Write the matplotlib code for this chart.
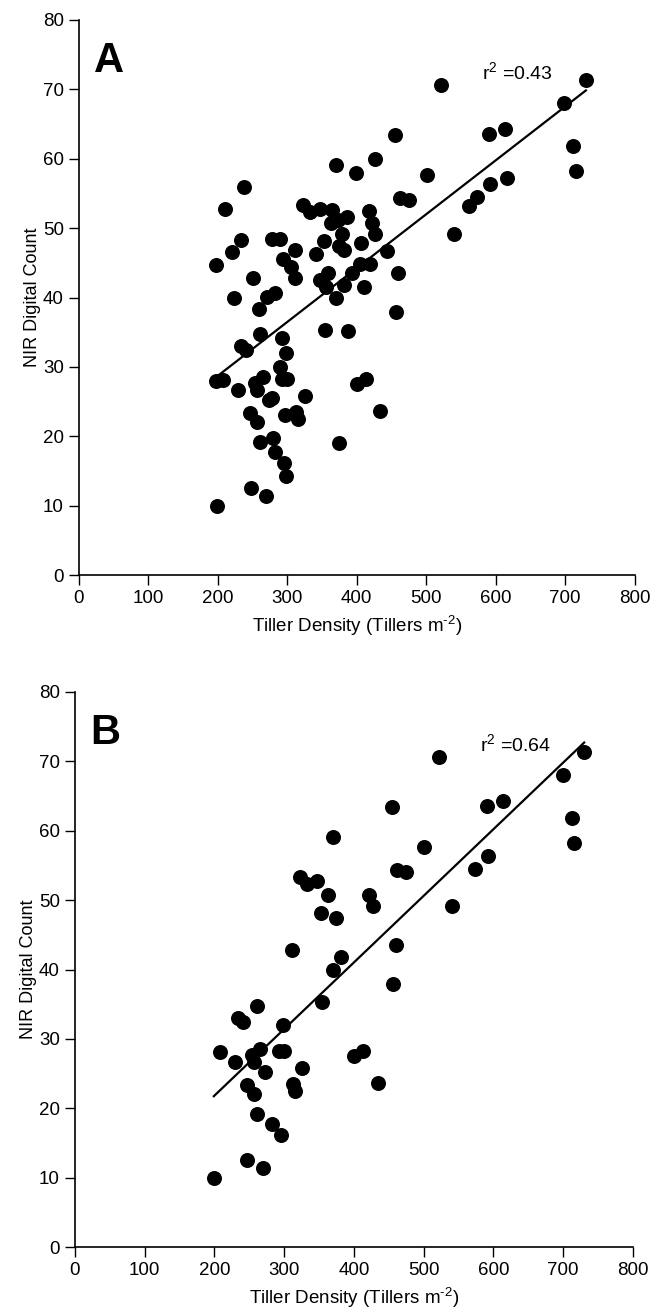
import matplotlib
matplotlib.use("Agg")
import matplotlib.pyplot as plt
import numpy as np

plt.rcParams['font.family'] = ['Liberation Sans', 'DejaVu Sans']
plt.rcParams['mathtext.fontset'] = 'custom'
plt.rcParams['mathtext.rm'] = 'Liberation Sans'

# Panel A data (tiller density, NIR digital count)
a_x = [455, 370, 427, 399, 501, 237, 210, 462, 475, 323, 333, 347, 364, 363, 386, 373,
       417, 422, 427, 234, 278, 289, 379, 353, 406, 311, 220, 374, 382, 341, 444, 197,
       294, 306, 405, 419, 393, 460, 359, 347, 250, 311, 381, 356, 410, 223, 271, 282,
       259, 370, 456, 261, 354, 387, 234, 241, 293, 298, 197, 208, 229, 254, 265, 257,
       289, 292, 300, 273, 278, 326, 246, 256, 296, 313, 315, 413, 400, 434, 261, 280,
       282, 295, 298, 375, 247, 270, 199, 522, 730, 699, 590, 613, 712, 716, 592, 616,
       573, 562, 540]
a_y = [63.4, 59.1, 59.9, 57.9, 57.7, 55.9, 52.7, 54.4, 54.0, 53.3, 52.3, 52.8, 52.6, 50.7,
       51.6, 51.2, 52.5, 50.8, 49.2, 48.3, 48.4, 48.5, 49.1, 48.1, 47.9, 46.8, 46.6, 47.4,
       46.8, 46.2, 46.7, 44.7, 45.6, 44.4, 44.9, 44.8, 43.5, 43.5, 43.5, 42.5, 42.8, 42.8,
       41.8, 41.5, 41.5, 39.9, 40.1, 40.6, 38.3, 39.9, 37.9, 34.7, 35.3, 35.1, 33.0, 32.4,
       34.1, 32.0, 27.9, 28.1, 26.7, 27.7, 28.5, 26.7, 30.0, 28.3, 28.3, 25.2, 25.5, 25.8,
       23.3, 22.1, 23.0, 23.5, 22.5, 28.3, 27.6, 23.6, 19.2, 19.8, 17.8, 16.2, 14.3, 19.0,
       12.6, 11.4, 9.9, 70.6, 71.3, 68.0, 63.5, 64.3, 61.8, 58.3, 56.4, 57.2, 54.5, 53.2,
       49.1]

# Panel B data
b_x = [455, 370, 501, 462, 475, 323, 333, 347, 363, 422, 427, 353, 374, 311, 381, 370,
       460, 456, 354, 261, 234, 241, 298, 208, 229, 265, 254, 257, 273, 292, 300, 326,
       246, 256, 313, 315, 400, 413, 434, 261, 282, 295, 247, 270, 199, 522, 730, 699,
       590, 613, 712, 716, 592, 573, 540]
b_y = [63.4, 59.1, 57.7, 54.4, 54.0, 53.3, 52.3, 52.8, 50.7, 50.8, 49.2, 48.1, 47.4, 42.8,
       41.8, 39.9, 43.5, 37.9, 35.3, 34.7, 33.0, 32.4, 32.0, 28.1, 26.7, 28.5, 27.7, 26.7,
       25.2, 28.3, 28.3, 25.8, 23.3, 22.1, 23.5, 22.5, 27.6, 28.3, 23.6, 19.2, 17.8, 16.2,
       12.6, 11.4, 9.9, 70.6, 71.3, 68.0, 63.5, 64.3, 61.8, 58.3, 56.4, 54.5, 49.1]

# regression lines (slope, intercept)
a_fit = (0.0776, 13.2)
b_fit = (0.096, 2.63)
a_r2 = "0.43"
b_r2 = "0.64"

x_ticks = [0, 100, 200, 300, 400, 500, 600, 700, 800]
y_ticks = [0, 10, 20, 30, 40, 50, 60, 70, 80]

W, H = 651, 1316
fig = plt.figure(figsize=(W / 100, H / 100), dpi=100)

def panel(rect, xs, ys, fit, r2, letter, r2pos):
    ax = fig.add_axes(rect)
    ax.plot(xs, ys, 'o', color='black', markersize=10.8, markeredgewidth=0, zorder=3)
    lx = np.array([min(xs), max(xs)])
    ax.plot(lx, fit[0] * lx + fit[1], color='black', linewidth=1.6, zorder=2)
    ax.set_xlim(0, 800)
    ax.set_ylim(0, 80)
    ax.set_xticks(x_ticks)
    ax.set_yticks(y_ticks)
    for s in ['top', 'right']:
        ax.spines[s].set_visible(False)
    for s in ['left', 'bottom']:
        ax.spines[s].set_linewidth(1.2)
    ax.tick_params(direction='out', length=7, width=1.0, labelsize=13.5, pad=4)
    ax.set_xlabel('Tiller Density (Tillers m$^{\\mathrm{\u2010}2}$)', fontsize=13.5, labelpad=4)
    ax.set_ylabel('NIR Digital Count', fontsize=13, labelpad=1)
    ax.text(22, 72.5, letter, fontsize=30, fontweight='bold', ha='left', va='baseline')
    ax.text(r2pos[0], r2pos[1], 'r$^{\\mathrm{2}}$ =' + r2, fontsize=14, ha='left', va='baseline')
    ax.patch.set_alpha(0)
    return ax

panel([79 / W, 1 - 575 / H, 555.5 / W, 555 / H], a_x, a_y, a_fit, a_r2, 'A', (580, 71.3))
panel([75 / W, 1 - 1247 / H, 558 / W, 555 / H], b_x, b_y, b_fit, b_r2, 'B', (581, 71.4))

fig.savefig('out.png', dpi=100)
